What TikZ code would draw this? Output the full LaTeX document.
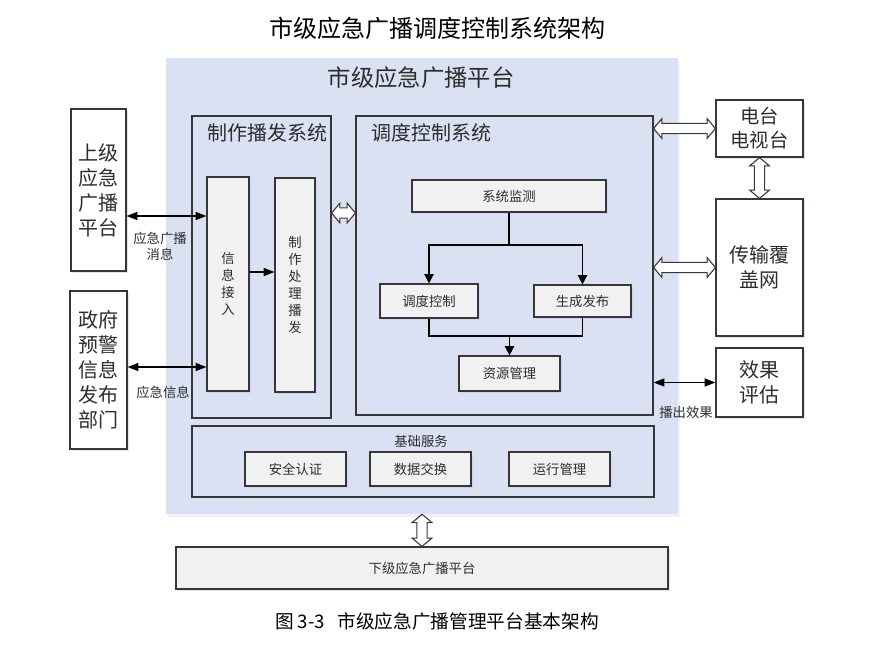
\documentclass[tikz,border=0pt]{standalone}
\usepackage{fontspec}
\setmainfont{Noto Sans CJK SC}
\usepackage{xcolor}
\usepackage{tikz}
\usetikzlibrary{arrows.meta,shadows,calc,shapes.arrows}

\definecolor{platblue}{RGB}{218,225,243}
\definecolor{boxgray}{RGB}{241,241,241}
\definecolor{linegray}{RGB}{55,55,55}
\definecolor{txtgray}{RGB}{45,45,45}

\tikzset{
  sz/.style 2 args={minimum width=#1*0.75pt,minimum height=#2*0.75pt},
  frame/.style={draw=linegray,line width=0.9pt,inner sep=0pt,text=txtgray},
  shade/.style={drop shadow={shadow xshift=1.2pt,shadow yshift=-1.2pt,opacity=0.45,fill=blue!25}},
  grey/.style={frame,fill=boxgray,shade,font=\fontsize{10}{12.75}\selectfont},
  white/.style={frame,fill=white,shade,align=center,font=\fontsize{15}{18.75}\selectfont},
  small/.style={text=txtgray,font=\fontsize{10}{12}\selectfont,align=center},
  arr/.style={line width=0.9pt,{Triangle[length=8pt,width=6pt]}-{Triangle[length=8pt,width=6pt]}},
  flow/.style={line width=1.1pt,-{Triangle[length=7pt,width=7pt]}},
  hollow/.style={to path={let \p1=(\tikztostart),\p2=(\tikztotarget),
      \n1={atan2(\y2-\y1,\x2-\x1)},\n2={veclen(\x2-\x1,\y2-\y1)} in
      node[double arrow,draw=linegray,fill=white,line width=0.8pt,inner xsep=0pt,inner ysep=3.5pt,
        double arrow head extend=3.5pt,double arrow tip angle=100,
        minimum height=\n2,rotate=\n1]
      at ($(\p1)!0.5!(\p2)$) {}}}
}

\begin{document}
\begin{tikzpicture}[x=0.75pt,y=-0.75pt]
\useasboundingbox (0,0) rectangle (873,654);

\node[font=\fontsize{18}{22}\selectfont] (title) at (437,28) {市级应急广播调度控制系统架构};

% city platform
\node[fill=platblue,sz={512}{456},inner sep=0pt,drop shadow={shadow xshift=1.5pt,shadow yshift=-2pt,opacity=0.3,fill=blue!20}] (plat) at (422,286) {};
\node[font=\fontsize{17.5}{21}\selectfont,text=txtgray] (platt) at (421,78) {市级应急广播平台};

\node[frame,sz={139}{302}] (zz) at (261.5,267) {};
\node[font=\fontsize{15}{18}\selectfont,text=txtgray] (zzt) at (267,133) {制作播发系统};
\node[frame,sz={297}{299}] (dd) at (504.5,265.5) {};
\node[font=\fontsize{15}{18}\selectfont,text=txtgray] (ddt) at (431,133) {调度控制系统};

\node[grey,sz={42}{214},align=center] (xx) at (228,284) {信\\息\\接\\入};
\node[grey,sz={40}{214},align=center] (cl) at (295,285) {制\\作\\处\\理\\播\\发};

\node[grey,sz={194}{32}] (jc) at (509,196) {系统监测};
\node[grey,sz={98}{34}] (dk) at (429,301) {调度控制};
\node[grey,sz={97}{32}] (sc) at (582.5,301) {生成发布};
\node[grey,sz={101}{35}] (zy) at (509.5,373.5) {资源管理};

\node[frame,sz={462}{71}] (jf) at (423,461.5) {};
\node[small] (jft) at (421,441) {基础服务};
\foreach \nm/\x/\txt in {aq/295.5/安全认证,sjjh/420.5/数据交换,yx/559.5/运行管理}
  {\node[grey,sz={101}{34}] (\nm) at (\x,469) {\txt};}

\node[grey,sz={492}{42}] (xj) at (422,568) {下级应急广播平台};

% outside
\node[white] (sj) [sz={55}{162}] at (98.5,190) {上级\\应急\\广播\\平台};
\node[white] (zf) [sz={57}{158}] at (98.5,370) {政府\\预警\\信息\\发布\\部门};
\node[white,font=\fontsize{14.5}{18}\selectfont] (dt) [sz={87}{57}] at (759.5,128.5) {电台\\电视台};
\node[white] (cs) [sz={87}{137}] at (759.5,267.5) {传输覆\\盖网};
\node[white] (xg) [sz={87}{69}] at (759.5,382.5) {效果\\评估};

% connectors
\coordinate (y1) at (0,216);
\coordinate (y2) at (0,367);
\coordinate (y3) at (0,272);
\coordinate (y4) at (0,213);
\coordinate (fork) at (0,245);
\coordinate (join) at (0,336);

\draw[arr] (sj.east|-y1) -- (xx.west|-y1);
\draw[arr] (zf.east|-y2) -- (xx.west|-y2);
\draw[line width=0.9pt,-{Triangle[length=8pt,width=6pt]}] (xx.east|-y3) -- (cl.west|-y3);
\draw[arr] (dd.east|-xg) -- (xg.west);

\draw[line width=1.1pt] (jc.south) -- (jc.south|-fork);
\foreach \t in {dk,sc}{\draw[flow] (jc.south|-fork) -| (\t.north);}
\draw[line width=1.1pt] (dk.south) |- (sc.south|-join) -- (sc.south);
\draw[flow] (zy.north|-join) -- (zy.north);

\path[hollow] (zz.east|-y4) to (dd.west|-y4);
\foreach \t in {dt,cs}{\path[hollow] (dd.east|-\t) to (\t.west);}
\path[hollow] (dt.south) to (cs.north);
\path[hollow] (plat.south) to (xj.north);

\node[small] (l1) at (160,246) {应急广播\\消息};
\node[small] (l2) at (163,392) {应急信息};
\node[small] (l3) at (686,412) {播出效果};

\node[font=\fontsize{14}{16}\selectfont] (cap) at (437,621) {图 3-3\ \ \ 市级应急广播管理平台基本架构};
\end{tikzpicture}
\end{document}
